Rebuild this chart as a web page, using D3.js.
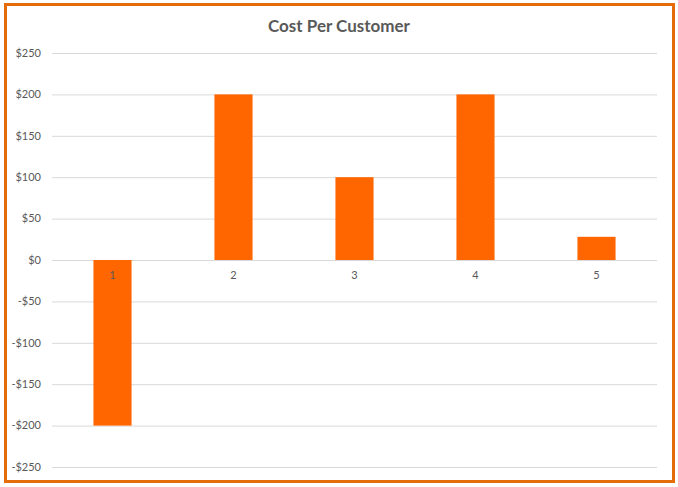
<!DOCTYPE html>
<html>
<head>
<meta charset="utf-8">
<script src="https://cdn.jsdelivr.net/npm/d3@7"></script>
<style>
  body { margin: 0; background: #fff; }
  svg { display: block; font-family: Lato, "Open Sans", sans-serif; }
</style>
</head>
<body>
<svg id="chart"></svg>
<script>
// data
const categories = ["1", "2", "3", "4", "5"];
const costs = [-200, 200, 100, 200, 28];
const yTicks = [-250, -200, -150, -100, -50, 0, 50, 100, 150, 200, 250];

const W = 678, H = 487;
const margin = {top: 53, right: 21, bottom: 20, left: 52};
const width = W - margin.left - margin.right;
const height = 467 - margin.top;

const svg = d3.select("#chart")
  .attr("width", W)
  .attr("height", H);

// outer frame
svg.append("rect")
  .attr("x", 5.5).attr("y", 4.5)
  .attr("width", 668).attr("height", 477)
  .attr("fill", "#fff")
  .attr("stroke", "#E46C0A")
  .attr("stroke-width", 3);

svg.append("text")
  .attr("x", 339).attr("y", 32)
  .attr("text-anchor", "middle")
  .style("font-size", "17px")
  .style("font-weight", "bold")
  .style("fill", "#595959")
  .text("Cost Per Customer");

const g = svg.append("g")
  .attr("transform", "translate(" + margin.left + "," + margin.top + ")");

const x = d3.scaleBand()
  .domain(categories)
  .range([0, width])
  .paddingInner(0.685)
  .paddingOuter(0.3425);

const y = d3.scaleLinear()
  .domain([-250, 250])
  .range([height, 0]);

// gridlines
g.append("g")
  .call(d3.axisLeft(y).tickValues(yTicks).tickSize(-width).tickFormat(""))
  .call(s => s.select(".domain").remove())
  .call(s => s.selectAll("line").attr("stroke", "#d9d9d9"));

// y labels
g.append("g")
  .selectAll("text")
  .data(yTicks)
  .join("text")
  .attr("x", -11)
  .attr("y", d => y(d))
  .attr("dy", "0.35em")
  .attr("text-anchor", "end")
  .style("font-size", "11px")
  .style("fill", "#595959")
  .text(d => (d < 0 ? "-$" : "$") + Math.abs(d));

// bars
g.selectAll(".bar")
  .data(costs)
  .join("rect")
  .attr("class", "bar")
  .attr("x", (d, i) => x(categories[i]))
  .attr("width", x.bandwidth())
  .attr("y", d => y(Math.max(0, d)))
  .attr("height", d => Math.abs(y(d) - y(0)))
  .attr("fill", "#FF6600");

// category labels sit just under the zero line
g.append("g")
  .selectAll("text")
  .data(categories)
  .join("text")
  .attr("x", d => x(d) + x.bandwidth() / 2)
  .attr("y", y(0) + 19)
  .attr("text-anchor", "middle")
  .style("font-size", "11px")
  .style("fill", "#595959")
  .text(d => d);
</script>
</body>
</html>
